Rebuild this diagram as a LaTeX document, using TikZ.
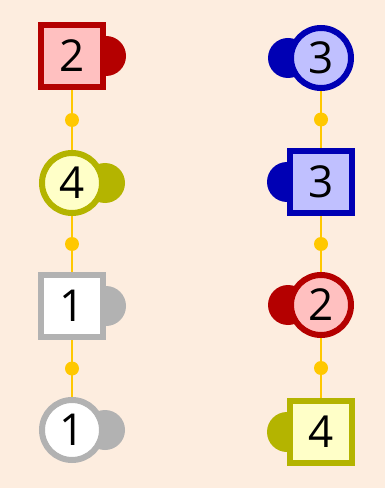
\documentclass[tikz,border=0pt]{standalone}
\usepackage{fontspec}
\setsansfont{Open Sans}
\usetikzlibrary{backgrounds}
\definecolor{bgpeach}{RGB}{253,237,223}
\definecolor{linkgold}{RGB}{255,200,0}
\definecolor{linered}{RGB}{180,0,0}
\definecolor{fillred}{RGB}{255,192,192}
\definecolor{lineolive}{RGB}{180,180,0}
\definecolor{fillolive}{RGB}{255,255,200}
\definecolor{linegray}{RGB}{178,178,178}
\definecolor{fillgray}{RGB}{255,255,255}
\definecolor{lineblue}{RGB}{0,0,180}
\definecolor{fillblue}{RGB}{192,192,255}
\tikzset{
  sqnode/.style={rectangle,draw=line#1,fill=fill#1,line width=4.5pt,
                 minimum size=46.5pt,inner sep=0,
                 font=\sffamily\fontsize{33}{33}\selectfont},
  cirnode/.style={circle,draw=line#1,fill=fill#1,line width=4.5pt,
                  minimum size=45pt,inner sep=0,
                  font=\sffamily\fontsize{33}{33}\selectfont},
  link/.style={draw=linkgold,line width=1.9pt},
  joint/.style={circle,fill=linkgold,minimum size=10.5pt,inner sep=0}
}

\begin{document}
\begin{tikzpicture}[x=0.75pt,y=-0.75pt]
  \begin{pgfonlayer}{background}
    \fill[bgpeach] (0,0) rectangle (385,488);
  \end{pgfonlayer}
  % left and right columns
  \foreach \n/\x/\y/\shp/\col/\txt/\side in {%
      L1/72/56/sqnode/red/2/east,
      L2/72/183/cirnode/olive/4/east,
      L3/72/306/sqnode/gray/1/east,
      L4/72/430/cirnode/gray/1/east,
      R1/321/58/cirnode/blue/3/west,
      R2/321/182/sqnode/blue/3/west,
      R3/321/305/cirnode/red/2/west,
      R4/321/432/sqnode/olive/4/west}{%
    \node[\shp=\col] (\n) at (\x,\y) {\txt};
    \begin{pgfonlayer}{background}
      \fill[line\col] (\n.\side) circle (15pt);
    \end{pgfonlayer}
  }
  \begin{pgfonlayer}{background}
    \foreach \a/\b in {L1/L2,L2/L3,L3/L4,R1/R2,R2/R3,R3/R4}
      \draw[link] (\a) -- node[joint]{} (\b);
  \end{pgfonlayer}
\end{tikzpicture}
\end{document}
